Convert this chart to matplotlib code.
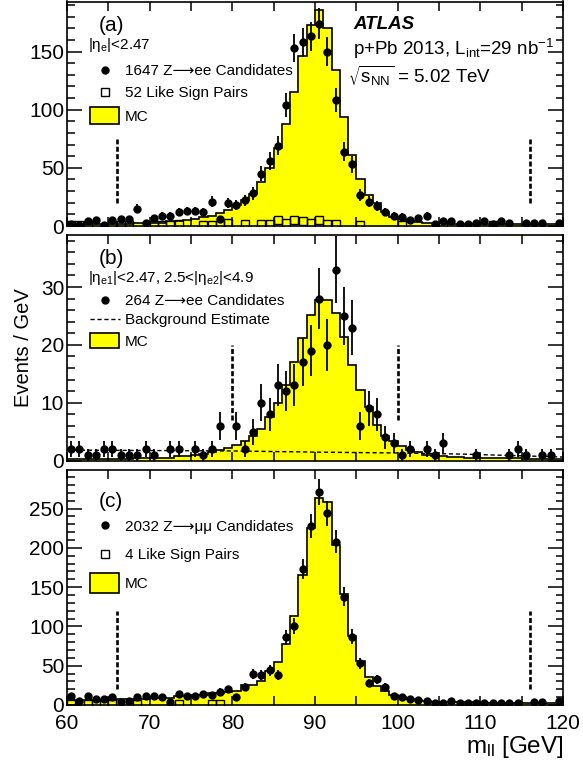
import numpy as np
import matplotlib
matplotlib.use("Agg")
import matplotlib.pyplot as plt
from matplotlib.lines import Line2D
from matplotlib.patches import Rectangle
from matplotlib.ticker import MultipleLocator

plt.rcParams['font.family'] = ['Liberation Sans', 'DejaVu Sans']
plt.rcParams['mathtext.default'] = 'regular'

W, H = 583, 762

# 1 GeV bins from 60 to 120
mass_edges = np.arange(60, 121)
centers = mass_edges[:-1] + 0.5

# (a) Z->ee, both electrons central
data_ee = [2, 1, 4, 5, 1, 5, 6, 6, 15, 3,
           7, 9, 9, 12, 13, 13, 12, 21, 6, 20,
           18, 22, 28, 45, 56, 69, 104, 153, 158, 163,
           174, 150, 108, 64, 53, 27, 21, 17, 12, 9,
           8, 5, 7, 9, 2, 4, 4, 2, 2, 3,
           4, 2, 4, 3, 0, 3, 3, 3, 0, 3]
like_sign_ee = [1, 1, 1, 0, 0, 1, 1, 1, 0, 0,
                1, 1, 1, 2, 0, 0, 1, 1, 1, 3,
                0, 2, 0, 2, 2, 5, 3, 5, 4, 3,
                5, 2, 2, 0, 0, 1, 0, 0, 0, 0,
                1, 0, 0, 0, 0, 1, 0, 0, 0, 0,
                0, 1, 0, 0, 0, 0, 0, 0, 0, 0]
mc_ee = [1.5, 1.5, 1.5, 1.5, 1.5, 1.5, 2, 2, 2.5, 2.5,
         3, 3, 4, 4, 5, 6, 7.5, 9, 11, 14,
         18, 22, 27.5, 37.6, 50, 67, 88, 115, 146, 173,
         186, 170, 134, 94, 61, 40, 27, 19.5, 12, 8,
         5.7, 4.6, 3.7, 3, 2.5, 2.5, 2, 2, 2, 2,
         1.7, 1.7, 1.7, 1.7, 1.7, 1.5, 1.5, 1.5, 1.5, 1.5]

# (b) Z->ee, one central + one forward electron
data_fwd = [2, 2, 1, 1, 2, 2, 1, 1, 1, 2,
            1, 0, 2, 2, 0, 2, 1, 2, 6, 0,
            6, 2, 5, 10, 8, 13, 12, 13, 17, 19,
            28, 20, 33, 25, 23, 6, 9, 8, 4, 3,
            1, 2, 0, 2, 1, 3, 0, 0, 0, 1,
            0, 0, 0, 1, 2, 1, 0, 1, 1, 0]
mc_fwd = [0.2, 0.2, 0.2, 0.2, 0.3, 0.3, 0.3, 0.3, 0.4, 0.4,
          0.4, 0.5, 0.5, 0.7, 0.7, 0.9, 1.1, 1.4, 1.8, 2.2,
          2.7, 3.4, 4.3, 5.5, 7.5, 9.9, 13.1, 17.1, 21.1, 25.1,
          27.8, 27.8, 25.5, 21.3, 16.6, 12.2, 9.3, 6.2, 4.2, 3.3,
          2.5, 1.9, 1.4, 1.0, 0.8, 0.7, 0.6, 0.6, 0.5, 0.5,
          0.4, 0.4, 0.4, 0.4, 0.4, 0.3, 0.3, 0.3, 0.3, 0.3]
bkg_mass = [60, 80, 90, 100, 108, 120]
bkg_level = [1.8, 1.65, 1.45, 1.3, 1.1, 0.6]

# (c) Z->mumu
data_mm = [11, 5, 11, 7, 8, 10, 4, 5, 10, 12,
           11, 10, 4, 14, 11, 12, 14, 13, 17, 20,
           10, 23, 39, 38, 44, 38, 86, 101, 173, 228,
           271, 244, 208, 138, 87, 53, 28, 33, 23, 11,
           10, 7, 6, 5, 2, 3, 5, 2, 3, 3,
           2, 2, 2, 2, 2, 0, 4, 4, 0, 5]
like_sign_mm = [1, 0, 1, 1, 0, 1, 0, 0, 1, 0,
                0, 0, 0, 1, 0, 0, 0, 1, 1, 0] + [0] * 40
mc_mm = [6, 6, 6, 6, 6, 6, 7, 7, 7, 7,
         9, 9, 9, 11, 11, 13, 13, 15, 15, 17,
         18, 26, 26, 30, 43, 55, 77, 113, 165, 225,
         264, 258, 204, 141, 88, 56, 36, 24, 18, 13,
         10, 7, 6, 5, 4, 4, 3.5, 3.5, 3.5, 3.5,
         3, 3, 3, 3, 3, 2.5, 2.5, 2.5, 2.5, 2.5]

window_ee = [66, 116]
window_fwd = [80, 100]


def fx(x):
    return x / W


def fy(y):
    return 1 - y / H


def plot_mc(ax, mc):
    ax.stairs(mc, mass_edges, fill=True, color='#ffff00', zorder=1)
    ax.stairs(mc, mass_edges, color='k', lw=1.2, zorder=2)


def plot_data(ax, counts):
    c = np.asarray(counts, float)
    ok = c > 0
    ax.errorbar(centers[ok], c[ok], yerr=np.sqrt(c[ok]), fmt='o', color='k',
                ms=5, elinewidth=1.3, capsize=0, zorder=4)


def plot_squares(ax, counts):
    c = np.asarray(counts, float)
    ok = c > 0
    ax.plot(centers[ok], c[ok], 's', mfc='none', mec='k', ms=5.5, mew=1.0, zorder=3)


def plot_window(ax, xs, ylo, yhi):
    for x in xs:
        ax.plot([x, x], [ylo, yhi], color='k', lw=1.9, ls=(0, (1.9, 0.9)), zorder=3)


def style_axis(ax, ymax, ymajor, yminor, xlabels):
    ax.set_xlim(60, 120)
    ax.set_ylim(0, ymax)
    ax.xaxis.set_major_locator(MultipleLocator(10))
    ax.xaxis.set_minor_locator(MultipleLocator(5))
    ax.yaxis.set_major_locator(MultipleLocator(ymajor))
    ax.yaxis.set_minor_locator(MultipleLocator(yminor))
    ax.tick_params(which='both', direction='in', top=True, right=True,
                   width=1.1, labelsize=15, labelbottom=xlabels)
    ax.tick_params(axis='y', which='major', length=10.8, pad=2)
    ax.tick_params(axis='y', which='minor', length=5.4)
    ax.tick_params(axis='x', which='both', length=6.5, pad=6.8)
    for s in ax.spines.values():
        s.set_linewidth(1.2)
        s.set_zorder(5)


fig = plt.figure(figsize=(W / 100, H / 100), dpi=100)
left, width = 67 / W, 496 / W
ax_a = fig.add_axes([left, fy(226), width, (226 - 1.5) / H])
ax_b = fig.add_axes([left, fy(460.5), width, (460.5 - 235) / H])
ax_c = fig.add_axes([left, fy(705), width, (705 - 470) / H])

# panel (a)
plot_mc(ax_a, mc_ee)
plot_squares(ax_a, like_sign_ee)
plot_data(ax_a, data_ee)
plot_window(ax_a, window_ee, 20, 75)
style_axis(ax_a, 193, 50, 10, False)

# panel (b)
plot_mc(ax_b, mc_fwd)
ax_b.plot(bkg_mass, bkg_level, color='k', lw=1.0, ls=(0, (3, 2)), zorder=3)
plot_data(ax_b, data_fwd)
plot_window(ax_b, window_fwd, 7, 20)
style_axis(ax_b, 39, 10, 2, False)

# panel (c)
plot_mc(ax_c, mc_mm)
plot_squares(ax_c, like_sign_mm)
plot_data(ax_c, data_mm)
plot_window(ax_c, window_ee, 20, 120)
style_axis(ax_c, 299, 50, 10, True)

# legends and labels (drawn in figure pixels)
def label(x, y, s, size=11, **kw):
    fig.text(fx(x), fy(y), s, fontsize=size, ha='left', va='baseline', **kw)


def dot(x, y):
    fig.add_artist(Line2D([fx(x)], [fy(y)], marker='o', color='k', ms=5, ls='none'))


def square(x, y):
    fig.add_artist(Line2D([fx(x)], [fy(y)], marker='s', mfc='none', mec='k',
                          ms=5.5, mew=1.0, ls='none'))


def mc_box(x0, y0, x1, y1):
    fig.add_artist(Rectangle((fx(x0), fy(y1)), (x1 - x0) / W, (y1 - y0) / H,
                             facecolor='#ffff00', edgecolor='k', lw=1.2))


label(99, 31, '(a)', 15)
label(88, 49, r'$|η_{e}|$<2.47')
dot(105, 70)
label(125, 75, '1647 Z⟶ee Candidates')
square(105, 92)
label(125, 97, '52 Like Sign Pairs')
mc_box(90, 107, 119, 124)
label(125, 121, 'MC')
label(353, 29, 'ATLAS', 13.5, fontweight='bold', fontstyle='italic')
label(353, 55, r'p+Pb 2013, L$_{int}$=29 nb$^{-1}$', 13.5)
label(348, 83, r'$\sqrt{s_{NN}}$ = 5.02 TeV', 13.5)

label(99, 264, '(b)', 15)
label(88, 282, r'$|η_{e1}|$<2.47, 2.5<$|η_{e2}|$<4.9')
dot(105, 300)
label(125, 305, '264 Z⟶ee Candidates')
fig.add_artist(Line2D([fx(90), fx(120)], [fy(319), fy(319)], color='k', lw=1.0,
                      ls=(0, (3, 2))))
label(125, 324, 'Background Estimate')
mc_box(90, 333, 119, 347.5)
label(125, 346, 'MC')

label(99, 507, '(c)', 15)
dot(105, 525)
label(125, 531, '2032 Z⟶μμ Candidates')
square(105, 554)
label(125, 559, '4 Like Sign Pairs')
mc_box(90, 573, 119, 593)
label(125, 588, 'MC')

fig.text(fx(24), fy(348), 'Events / GeV', fontsize=14.5, rotation=90,
         ha='center', va='center')
fig.text(fx(564), fy(753), r'm$_{ll}$ [GeV]', fontsize=17.5, ha='right', va='baseline')

fig.savefig('out.png', dpi=100)
